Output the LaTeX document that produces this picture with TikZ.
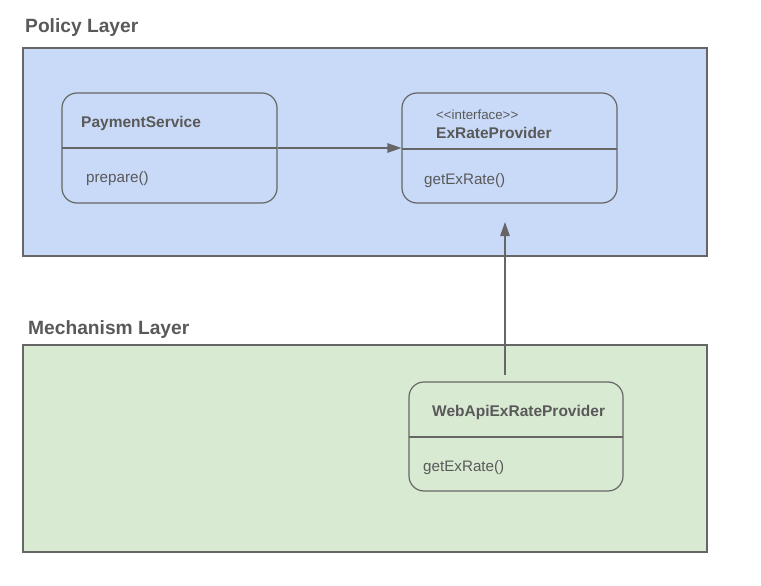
\documentclass[tikz,border=0pt]{standalone}
\usepackage{fontspec}
\setmainfont{Liberation Sans}
\usetikzlibrary{arrows.meta}
\definecolor{ink}{HTML}{595959}
\definecolor{edge}{HTML}{666666}
\definecolor{policyfill}{HTML}{C9DAF8}
\definecolor{mechfill}{HTML}{D9EAD3}
\tikzset{
  layer/.style={draw=edge, line width=1.2pt},
  layertitle/.style={anchor=base west, text=ink, font=\fontsize{19.2}{22}\selectfont\bfseries, inner sep=0pt},
  classbox/.style={draw=edge, line width=1.2pt, rounded corners=15pt, minimum width=215pt, minimum height=110pt, inner sep=0pt},
  divider/.style={draw=edge, line width=1.2pt},
  cname/.style={anchor=base west, text=ink, font=\fontsize{15.5}{18}\selectfont\bfseries, inner sep=0pt},
  cmeth/.style={anchor=base west, text=ink, font=\fontsize{15.2}{18}\selectfont, inner sep=0pt},
  stereo/.style={anchor=base west, text=ink, font=\fontsize{13.3}{15}\selectfont, inner sep=0pt},
  link/.style={draw=edge, line width=1.2pt, -{Triangle[length=14pt,width=9.5pt]}}
}
\begin{document}
\begin{tikzpicture}[x=1pt,y=-1pt]
\useasboundingbox (0,0) rectangle (761,586);
% layers
\node[layertitle] (tpol) at (25,33) {Policy Layer};
\draw[layer, fill=policyfill] (23,48) rectangle (707,256);
\node[layertitle] (tmech) at (28,334) {Mechanism Layer};
\draw[layer, fill=mechfill] (23,345) rectangle (707,552);
% PaymentService
\node[classbox] (ps) at (169.5,148) {};
\draw[divider] (62,148) -- (277,148);
\node[cname] (psn) at (81,127.5) {PaymentService};
\node[cmeth] (psm) at (86,182.5) {prepare()};
% ExRateProvider
\node[classbox] (erp) at (509.5,148) {};
\draw[divider] (402,149) -- (617,149);
\node[stereo] (erps) at (436,119.5) {{<}{<}interface{>}{>}};
\node[cname] (erpn) at (436,138) {ExRateProvider};
\node[cmeth] (erpm) at (424,184) {getExRate()};
% WebApiExRateProvider
\node[classbox, minimum width=214pt, minimum height=109pt] (web) at (516,436.5) {};
\draw[divider] (409,437) -- (623,437);
\node[cname] (webn) at (432,416) {WebApiExRateProvider};
\node[cmeth] (webm) at (423,471.5) {getExRate()};
% connectors
\draw[link] (ps.east) -- (erp.west);
\coordinate (wstart) at (505,375);
\coordinate (wend) at (505,222);
\draw[link] (wstart) -- (wend);
\end{tikzpicture}
\end{document}
